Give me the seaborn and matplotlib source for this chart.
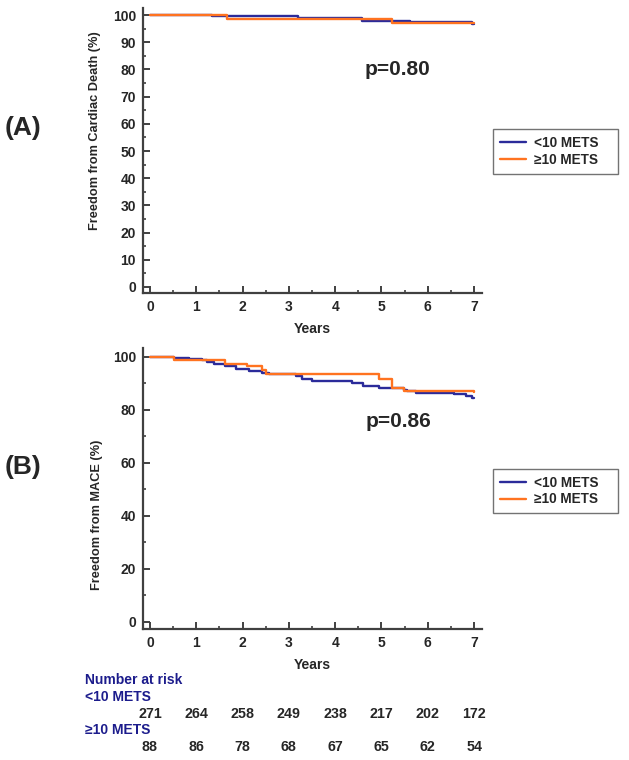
import numpy as np
import matplotlib
matplotlib.use('Agg')
import matplotlib.pyplot as plt
import matplotlib.transforms as mtransforms
from matplotlib.ticker import MultipleLocator
import pandas as pd
import seaborn as sns

######################################### DATA #########################################

groups = ['<10 METS', '≥10 METS']

# (A) freedom from cardiac death, step points (years, %)
a_low_t = [0, 1.33, 3.2, 4.57, 5.62, 6.95, 7.0]
a_low_s = [100, 99.5, 98.8, 97.9, 97.3, 96.6, 96.6]
a_high_t = [0, 1.66, 5.22, 7.0]
a_high_s = [100, 98.5, 97.2, 97.1]

# (B) freedom from MACE
b_low_t = [0, 0.52, 0.84, 1.13, 1.24, 1.38, 1.63, 1.85, 2.14, 2.43, 2.57, 3.15, 3.29,
           3.5, 4.37, 4.59, 4.95, 5.49, 5.56, 5.74, 6.57, 6.82, 6.96, 7.0]
b_low_s = [100, 99.7, 99.4, 98.7, 98.1, 97.2, 96.6, 95.6, 94.7, 93.9, 93.4, 92.7, 91.8,
           91.1, 90.3, 89.2, 88.2, 87.7, 87.0, 86.5, 86.1, 85.4, 84.6, 84.6]
b_high_t = [0, 0.52, 0.91, 1.63, 2.1, 2.41, 2.5, 4.95, 5.23, 5.49, 7.0]
b_high_s = [100, 99.0, 98.7, 97.5, 96.5, 94.9, 93.7, 91.8, 88.4, 87.0, 86.8]

p_values = ['p=0.80', 'p=0.86']

risk_years = [0, 1, 2, 3, 4, 5, 6, 7]
risk_low = [271, 264, 258, 249, 238, 217, 202, 172]
risk_high = [88, 86, 78, 68, 67, 65, 62, 54]

######################################### STYLE #########################################

sns.set_style('ticks')
plt.rcParams['font.family'] = ['Liberation Sans', 'DejaVu Sans']
plt.rcParams['font.weight'] = 'bold'

palette = {'<10 METS': '#2b2b9a', '≥10 METS': '#ff7320'}
spine_col = '#404040'
navy = '#1c1c8c'


def make_df(lt, ls, ht, hs):
    return pd.concat([
        pd.DataFrame({'Years': lt, 'Surv': ls, 'Group': groups[0]}),
        pd.DataFrame({'Years': ht, 'Surv': hs, 'Group': groups[1]}),
    ], ignore_index=True)


def style_axis(ax, ylim, major, minor, ylabel, label_xy):
    ax.set_xlim(-0.15, 7.17)
    ax.set_ylim(*ylim)
    ax.xaxis.set_major_locator(MultipleLocator(1))
    ax.xaxis.set_minor_locator(MultipleLocator(0.5))
    ax.yaxis.set_major_locator(MultipleLocator(major))
    ax.yaxis.set_minor_locator(MultipleLocator(minor))
    ax.tick_params(which='major', direction='in', length=5, width=1.4, color=spine_col,
                   labelsize=10, pad=5)
    ax.tick_params(which='minor', direction='in', length=2.5, width=1.2, color=spine_col)
    for lbl in ax.get_xticklabels() + ax.get_yticklabels():
        lbl.set_fontweight('bold')
    for s in ['top', 'right']:
        ax.spines[s].set_visible(False)
    for s in ['left', 'bottom']:
        ax.spines[s].set_color(spine_col)
        ax.spines[s].set_linewidth(1.6)
    ax.set_xlabel('Years', fontsize=10, fontweight='bold', labelpad=6)
    ax.set_ylabel(ylabel, fontsize=9.2, fontweight='bold', va='center')
    ax.yaxis.set_label_coords(*label_xy)
    ax.set_facecolor('white')


fig = plt.figure(figsize=(6.29, 7.6), dpi=100)
ax1 = fig.add_axes([0.2273, 0.6145, 0.539, 0.375])
ax2 = fig.add_axes([0.2273, 0.1724, 0.539, 0.3697])

panels = [
    (ax1, make_df(a_low_t, a_low_s, a_high_t, a_high_s), (-2.2, 102.6), 10, 5,
     'Freedom from Cardiac Death (%)', (-0.142, 0.568), (4.64, 79.8), 0.830, '(A)', 0.832),
    (ax2, make_df(b_low_t, b_low_s, b_high_t, b_high_s), (-2.8, 103.4), 20, 10,
     'Freedom from MACE (%)', (-0.137, 0.406), (4.66, 75.5), 0.383, '(B)', 0.385),
]

leg_w = 125 / 629
leg_h = 44 / 760

for i, (ax, df, ylim, major, minor, ylabel, lxy, ppos, legy, tag, tagy) in enumerate(panels):
    sns.lineplot(data=df, x='Years', y='Surv', hue='Group', palette=palette,
                 drawstyle='steps-post', linewidth=1.7, ax=ax, legend=True)
    style_axis(ax, ylim, major, minor, ylabel, lxy)
    ax.text(ppos[0], ppos[1], p_values[i], fontsize=15, fontweight='bold', va='center')
    leg = ax.legend(title=None, loc='upper left',
                    bbox_to_anchor=(0.784, legy - leg_h, leg_w, leg_h), mode='expand',
                    bbox_transform=fig.transFigure, borderaxespad=0, fancybox=False,
                    frameon=True, fontsize=9.8, handlelength=1.9, handletextpad=0.6,
                    borderpad=0.5, labelspacing=0.2)
    leg.get_frame().set_edgecolor('#505050')
    leg.get_frame().set_linewidth(1.0)
    for t in leg.get_texts():
        t.set_fontweight('bold')
    fig.text(0.037, tagy, tag, fontsize=19, fontweight='bold', va='center', ha='center')

# number at risk table under panel B
trans = mtransforms.blended_transform_factory(ax2.transData, fig.transFigure)
fig.text(0.135, 1 - 680 / 760, 'Number at risk', color=navy, fontsize=10,
         fontweight='bold', va='center')
fig.text(0.135, 1 - 697 / 760, groups[0], color=navy, fontsize=10,
         fontweight='bold', va='center')
fig.text(0.135, 1 - 730 / 760, groups[1], color=navy, fontsize=10,
         fontweight='bold', va='center')
for yr, n_low, n_high in zip(risk_years, risk_low, risk_high):
    ax2.text(yr, 1 - 714 / 760, str(n_low), transform=trans, ha='center', va='center',
             fontsize=10.3, fontweight='bold', clip_on=False)
    ax2.text(yr, 1 - 747 / 760, str(n_high), transform=trans, ha='center', va='center',
             fontsize=10.3, fontweight='bold', clip_on=False)

fig.savefig('out.png', dpi=100, facecolor='white')
